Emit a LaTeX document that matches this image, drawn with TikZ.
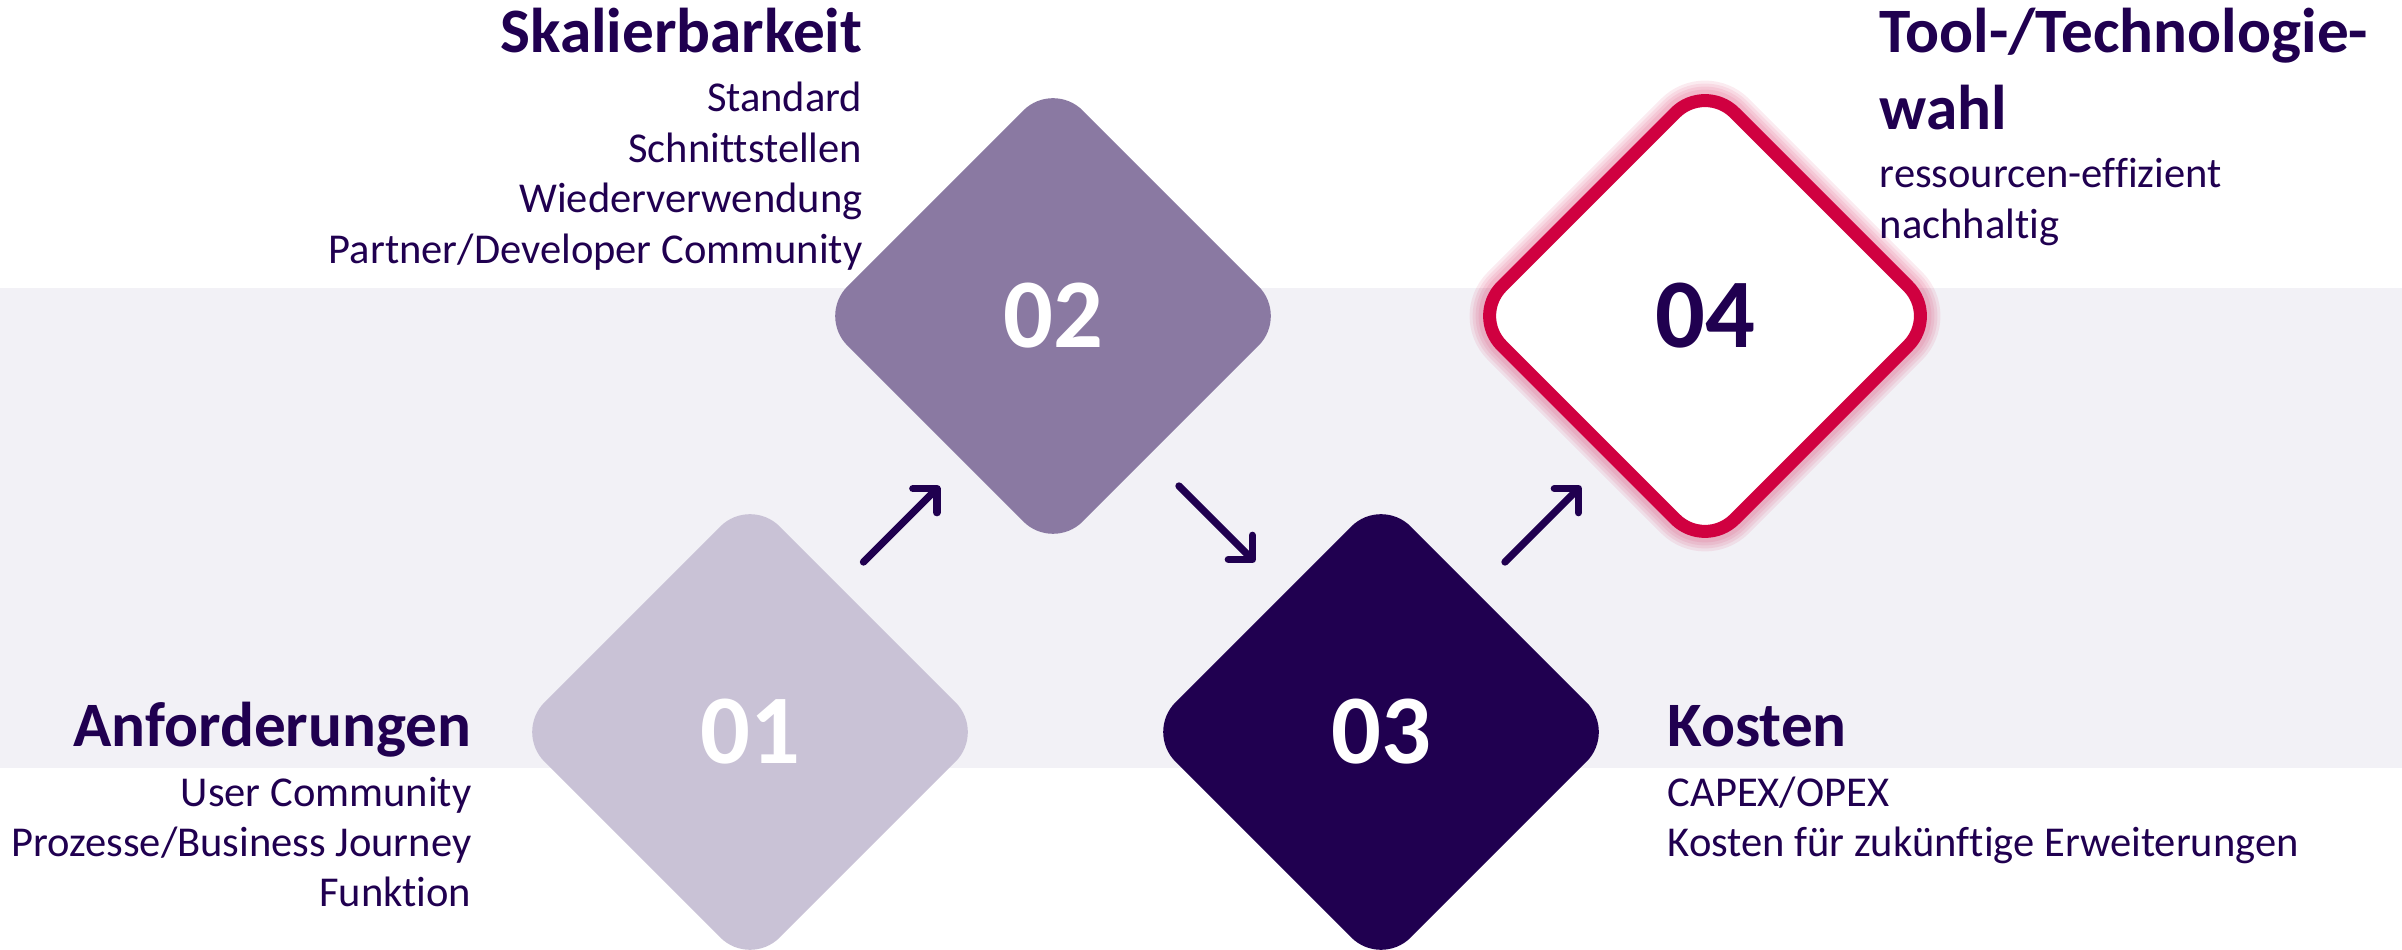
\documentclass[tikz,border=0pt]{standalone}
\usepackage{fontspec}
\setmainfont{Carlito}[Ligatures={NoCommon,NoRare,NoContextual}]
\usetikzlibrary{shapes.geometric,arrows.meta,calc}
\definecolor{ink}{HTML}{200050}
\definecolor{lilac}{HTML}{C9C2D6}
\definecolor{mauve}{HTML}{8A79A2}
\definecolor{band}{HTML}{F2F1F6}
\definecolor{crimson}{HTML}{D00040}

\begin{document}
\begin{tikzpicture}
\tikzstyle{stone}=[diamond, aspect=1, minimum size=4.71cm, inner sep=0pt, rounded corners=4.2mm, font=\fontsize{28}{34}\selectfont\bfseries];
\tikzstyle{head}=[text=ink, inner sep=0pt, font=\fontsize{18}{22}\selectfont\bfseries];
\tikzstyle{item}=[text=ink, inner sep=0pt, font=\fontsize{12.1}{14.5}\selectfont];
\tikzstyle{flow}=[draw=ink, line width=2.1pt, line cap=round, -{Straight Barb[length=1.7mm, width=3.4mm, round]}];
\useasboundingbox (0,0) rectangle (24.02,9.5);
\fill[band] (0,1.82) rectangle (24.02,6.62);

\node[stone, fill=lilac, text=white] (d1) at (7.50,2.18) {01};
\node[stone, fill=mauve, text=white] (d2) at (10.53,6.34) {02};
\node[stone, fill=ink, text=white] (d3) at (13.81,2.18) {03};
\node[stone, fill=white, text=ink, draw=crimson, line width=0.13cm,
  preaction={draw=crimson, opacity=0.08, line width=0.40cm},
  preaction={draw=crimson, opacity=0.08, line width=0.34cm},
  preaction={draw=crimson, opacity=0.08, line width=0.28cm},
  preaction={draw=crimson, opacity=0.08, line width=0.22cm}] (d4) at (17.05,6.34) {04};

% arrows between the steps
\foreach \a/\b/\s in {d1/d2/1, d2/d3/-1, d3/d4/1}
  \draw[flow] ($(\a)!0.5!(\b)+(-0.38,{-0.38*(\s)})$) -- ($(\a)!0.5!(\b)+(0.38,{0.38*(\s)})$);

% texts
\node[head, anchor=base east] (t1) at (4.72,2.03) {Anforderungen};
\foreach \t [count=\i] in {User Community,Prozesse/Business Journey,Funktion}
  \node[item, anchor=base east] (u\i) at (4.72,{1.93-0.5*\i}) {\t};

\node[head, anchor=base east] (t2) at (8.63,8.97) {Skalierbarkeit};
\foreach \t [count=\i] in {Standard,Schnittstellen,Wiederverwendung,Partner/Developer Community}
  \node[item, anchor=base east] (s\i) at (8.63,{8.885-0.505*\i}) {\t};

\node[head, anchor=base west] (t3) at (16.67,2.03) {Kosten};
\foreach \t [count=\i] in {CAPEX/OPEX,Kosten für zukünftige Erweiterungen}
  \node[item, anchor=base west] (k\i) at (16.67,{1.93-0.5*\i}) {\t};

\node[head, anchor=base west] (t4) at (18.79,8.97) {Tool-/Technologie-};
\node[head, anchor=base west] (t4b) at (18.79,8.20) {wahl};
\foreach \t [count=\i] in {ressourcen-effizient,nachhaltig}
  \node[item, anchor=base west] (w\i) at (18.79,{8.125-0.505*\i}) {\t};
\end{tikzpicture}
\end{document}
